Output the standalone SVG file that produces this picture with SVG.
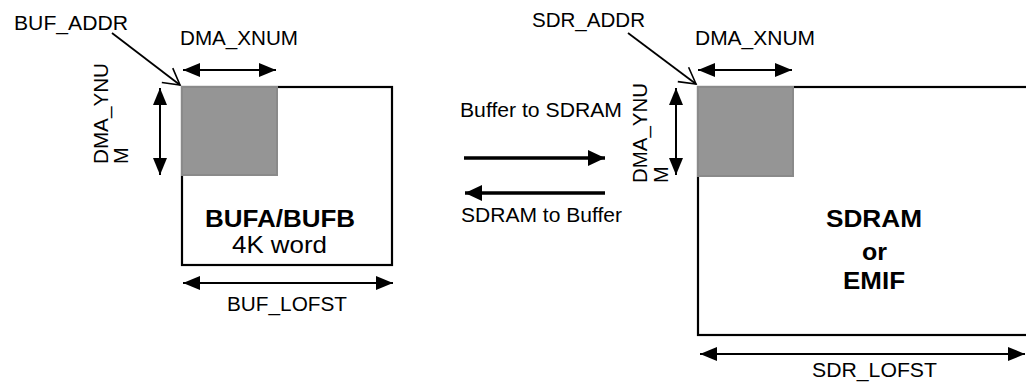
<svg xmlns="http://www.w3.org/2000/svg" width="1026" height="385" viewBox="0 0 1026 385">
<style>
.box{fill:#fff;stroke:#000;stroke-width:2.2}
.blk{fill:#959595;stroke:#8a8a8a;stroke-width:2}
.t{font-family:"Liberation Sans",Arial,sans-serif;font-size:20px;fill:#000}
.big{font-family:"Liberation Sans",Arial,sans-serif;font-size:24px;fill:#000}
.b{font-weight:bold}
.dim{stroke:#000;stroke-width:2;fill:none;marker-start:url(#tri);marker-end:url(#tri)}
.dir{stroke:#000;stroke-width:3.5;fill:none;marker-end:url(#bigtri)}
.ptr{stroke:#000;stroke-width:1.8;fill:none;marker-end:url(#vee)}
</style>
<defs>
<marker id="tri" markerUnits="userSpaceOnUse" markerWidth="17" markerHeight="14" refX="17" refY="7" orient="auto-start-reverse"><path d="M0,0 L17,7 L0,14 z" fill="#000"/></marker>
<marker id="bigtri" markerUnits="userSpaceOnUse" markerWidth="17" markerHeight="16" refX="17" refY="8" orient="auto"><path d="M0,0 L17,8 L0,16 z" fill="#000"/></marker>
<marker id="vee" markerUnits="userSpaceOnUse" markerWidth="19" markerHeight="21" refX="17" refY="10.5" orient="auto"><path d="M1,1.5 L17,10.5 L1,19.5" fill="none" stroke="#000" stroke-width="1.6"/></marker>
</defs>

<g id="buffer">
<rect class="box" x="182" y="87" width="210" height="178"/>
<rect class="blk" x="182" y="87" width="95" height="88"/>
<text class="big b" x="205" y="227" textLength="150" lengthAdjust="spacingAndGlyphs">BUFA/BUFB</text>
<text class="big" x="232" y="253" textLength="95" lengthAdjust="spacingAndGlyphs">4K word</text>
</g>

<g id="sdram">
<rect class="box" x="698" y="87" width="340" height="248"/>
<rect class="blk" x="698" y="87" width="95" height="89"/>
<text class="big b" x="826" y="227" textLength="96" lengthAdjust="spacingAndGlyphs">SDRAM</text>
<text class="big b" x="862" y="260" textLength="25" lengthAdjust="spacingAndGlyphs">or</text>
<text class="big b" x="843" y="289" textLength="62" lengthAdjust="spacingAndGlyphs">EMIF</text>
</g>

<g id="labels">
<text class="t" x="14" y="30" textLength="114" lengthAdjust="spacingAndGlyphs">BUF_ADDR</text>
<text class="t" x="180" y="45" textLength="118" lengthAdjust="spacingAndGlyphs">DMA_XNUM</text>
<text class="t" x="227" y="311" textLength="120" lengthAdjust="spacingAndGlyphs">BUF_LOFST</text>
<text class="t" transform="translate(108,164) rotate(-90)" textLength="101" lengthAdjust="spacingAndGlyphs">DMA_YNU</text>
<text class="t" transform="translate(128,164) rotate(-90)">M</text>
<text class="t" x="532" y="27" textLength="113" lengthAdjust="spacingAndGlyphs">SDR_ADDR</text>
<text class="t" x="695" y="45" textLength="120" lengthAdjust="spacingAndGlyphs">DMA_XNUM</text>
<text class="t" x="812" y="377" textLength="125" lengthAdjust="spacingAndGlyphs">SDR_LOFST</text>
<text class="t" transform="translate(647,183) rotate(-90)" textLength="100" lengthAdjust="spacingAndGlyphs">DMA_YNU</text>
<text class="t" transform="translate(668,183) rotate(-90)">M</text>
<text class="t" x="460" y="117" textLength="162" lengthAdjust="spacingAndGlyphs">Buffer to SDRAM</text>
<text class="t" x="461" y="222" textLength="161" lengthAdjust="spacingAndGlyphs">SDRAM to Buffer</text>
</g>

<g id="connectors">
<line class="ptr" x1="112" y1="33" x2="180" y2="85"/>
<line class="ptr" x1="628" y1="33" x2="696" y2="84"/>
<line class="dim" x1="183" y1="70" x2="276" y2="70"/>
<line class="dim" x1="160" y1="88" x2="160" y2="175"/>
<line class="dim" x1="183" y1="283" x2="393" y2="283"/>
<line class="dim" x1="698" y1="70" x2="792" y2="70"/>
<line class="dim" x1="676" y1="88" x2="676" y2="175"/>
<line class="dim" x1="700" y1="354" x2="1025" y2="354"/>
<line class="dir" x1="464" y1="158" x2="605" y2="158"/>
<line class="dir" x1="605" y1="193" x2="465" y2="193"/>
</g>
</svg>
